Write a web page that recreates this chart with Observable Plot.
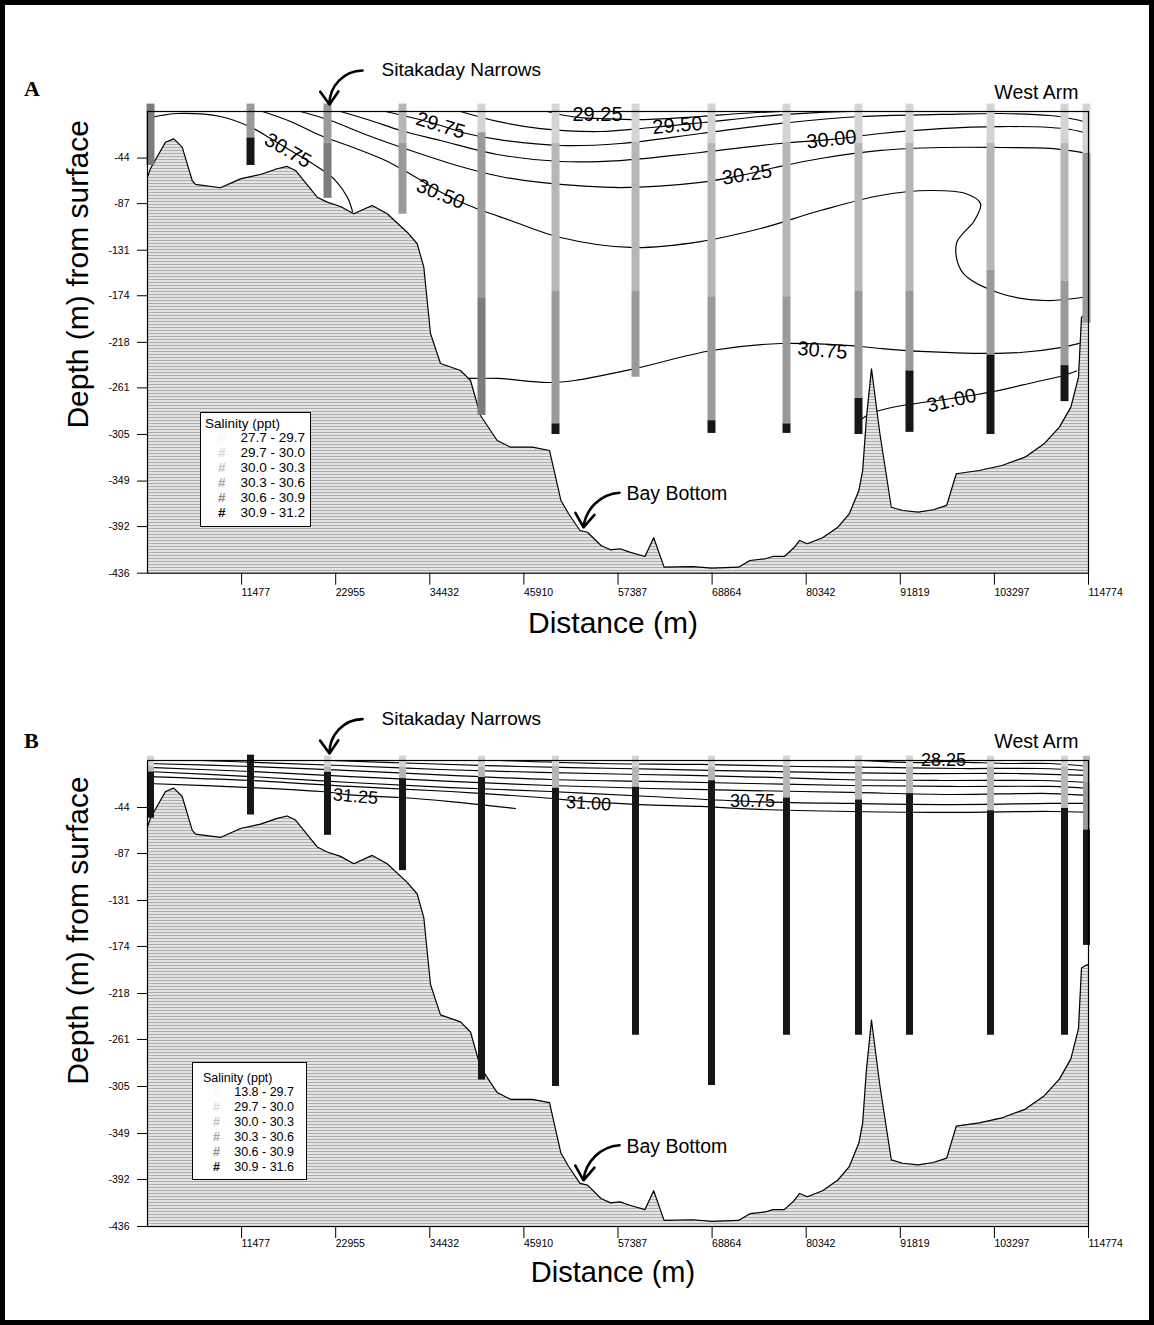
<!DOCTYPE html>
<html><head><meta charset="utf-8">
<script src="https://cdn.jsdelivr.net/npm/d3@7"></script>
<script src="https://cdn.jsdelivr.net/npm/@observablehq/plot@0.6"></script>
<style>
body{margin:0;background:#fff;font-family:"Liberation Sans",Arial,sans-serif}
#page{position:relative;width:1154px;height:1325px;overflow:hidden;background:#fff}
.panel{position:absolute;left:0}
#border{position:absolute;left:0;top:0;width:1154px;height:1325px;box-sizing:border-box;border:5px solid #000;pointer-events:none}
.letter{position:absolute;font-family:"Liberation Serif","Times New Roman",serif;font-weight:bold;font-size:22px;line-height:1}
.legend{position:absolute;background:#fff;border:1px solid #000;box-sizing:border-box;font-family:"Liberation Sans",Arial,sans-serif}
.legend div{position:absolute;white-space:nowrap;line-height:1}
</style></head><body><div id="page"></div>
<script>
// ---------------- DATA ----------------
const xTicks = [11477, 22955, 34432, 45910, 57387, 68864, 80342, 91819, 103297, 114774];
const yTicks = [-44, -87, -131, -174, -218, -261, -305, -349, -392, -436];

// station (cast) positions along the transect (m)
const stationDist = [366, 12563, 21955, 31102, 40738, 49764, 59521, 68791, 77939, 86721, 92941, 102821, 111847, 114530];

// bay-bottom profile
const bathyDist = [0,366,2195,3208,4232,5452,5855,8904,11343,13783,15820,17039,18052,20698,21918,23540,25162,27407,29236,31676,32895,33700,34517,35737,38177,39396,40616,42653,44275,46934,49032,50422,51349,52752,53667,55313,56472,57643,58814,60680,61741,63009,66498,68828,72084,73487,75353,76280,77682,78841,79548,80476,82342,84208,85599,86770,87233,87697,88306,89331,90722,92124,93990,95844,97478,98649,101442,104236,107029,109358,111224,112627,113554,113920,114408,114774];
const bathyDepth = [-62,-53.8,-29,-25.8,-33.7,-65.2,-68.9,-72,-63.6,-59.5,-54.1,-51.9,-55.7,-80.9,-85.6,-89.7,-96.6,-88.8,-96.6,-114,-124.9,-147,-209.6,-238,-244.6,-254,-287.1,-310.7,-317,-317,-320.1,-367.3,-379.6,-395.7,-397.3,-409.8,-413.9,-412.9,-416.1,-420.2,-402.5,-430.3,-429.7,-431.2,-430.3,-424,-422.4,-420.2,-420.2,-412,-405.1,-408.2,-402.5,-392.5,-379.9,-357.9,-339,-288.7,-243,-304.3,-373.7,-376.8,-378.4,-376.1,-372,-342.1,-339,-334.3,-326.4,-313.8,-298.1,-279.2,-250.9,-194.2,-191.7,-191];

// salinity classes of each cast segment: [station, top depth, bottom depth, class]
const barsA = [
  [0,7,-51,4],
  [1,7,-25,3],[1,-25,-51,5],
  [2,7,-30,3],[2,-30,-82,4],
  [3,7,-30,2],[3,-30,-97,3],
  [4,7,-20,1],[4,-20,-176,3],[4,-176,-287,4],
  [5,7,-30,1],[5,-30,-170,2],[5,-170,-295,3],[5,-295,-305,5],
  [6,7,-30,1],[6,-30,-170,2],[6,-170,-251,3],
  [7,7,-30,1],[7,-30,-175,2],[7,-175,-292,3],[7,-292,-304,5],
  [8,7,-30,1],[8,-30,-175,2],[8,-175,-295,3],[8,-295,-304,5],
  [9,7,-30,1],[9,-30,-170,2],[9,-170,-271,3],[9,-271,-305,5],
  [10,7,-30,1],[10,-30,-170,2],[10,-170,-245,3],[10,-245,-303,5],
  [11,7,-30,1],[11,-30,-150,2],[11,-150,-230,3],[11,-230,-305,5],
  [12,7,-30,1],[12,-30,-160,2],[12,-160,-240,3],[12,-240,-274,5],
  [13,7,-40,1],[13,-40,-200,3]
];
const barsB = [
  [0,4,-6,1],[0,-6,-11,2],[0,-11,-54,5],
  [1,5,-51,5],
  [2,4,-6,1],[2,-6,-11,2],[2,-11,-70,5],
  [3,4,-6,1],[3,-6,-17,2],[3,-17,-103,5],
  [4,4,-6,1],[4,-6,-16,2],[4,-16,-299,5],
  [5,4,-6,1],[5,-6,-26,2],[5,-26,-305,5],
  [6,4,-6,1],[6,-6,-25,2],[6,-25,-257,5],
  [7,4,-6,1],[7,-6,-19,2],[7,-19,-304,5],
  [8,4,-6,1],[8,-6,-35,2],[8,-35,-257,5],
  [9,4,-6,1],[9,-6,-37,2],[9,-37,-257,5],
  [10,4,-6,1],[10,-6,-31,2],[10,-31,-257,5],
  [11,4,-6,1],[11,-6,-47,2],[11,-47,-257,5],
  [12,4,-6,1],[12,-6,-45,2],[12,-45,-257,5],
  [13,4,-20,2],[13,-20,-65,3],[13,-65,-173,5]
];

// isohaline contours, panel A  [distance, depth]
const cA2925 = [[48788,0],[50983,-3.8],[52813,-5.7],[55252,-6.6],[60131,-7.6],[67449,-4.7],[72328,-1.9],[77207,0]];
const cA2950 = [[38177,0],[42690,-9.4],[47934,-16.1],[55252,-18.9],[61473,-15.1],[67815,-10.4],[74768,-4.7],[82086,-0.9],[85745,0]];
const cA2975 = [[29029,0],[32688,-6.6],[35737,-13.2],[38908,-20.8],[42690,-26.4],[50373,-32.1],[57692,-30.2],[67449,-20.8],[77207,-11.3],[86965,-4.7],[96722,-2.8],[104040,-1.9],[110139,-3.8],[112578,-6.6],[114774,-10.4]];
const cA3000 = [[23540,0],[27199,-8.5],[30858,-17.9],[35737,-27.4],[42690,-40.6],[50373,-47.2],[57692,-46.3],[67449,-38.7],[77207,-30.2],[83427,-26.4],[89404,-20.8],[96722,-16.1],[104040,-14.2],[110139,-15.1],[112578,-17],[114774,-20.8]];
const cA3025 = [[18661,0],[22321,-8.5],[26589,-21.7],[32078,-36.8],[38177,-51.9],[43055,-61.4],[47934,-67],[57692,-71.8],[67449,-67],[72937,-59.5],[76596,-52.9],[82086,-44.4],[89404,-36.8],[96722,-34],[104040,-34],[110139,-34.9],[114774,-39.7]];
const cA3050 = [[14027,0],[17442,-9.4],[21101,-22.7],[24760,-33],[29029,-46.3],[32566,-61.4],[35859,-76.5],[38908,-87.8],[44275,-102.9],[50373,-119],[58911,-128.4],[67449,-122.8],[74768,-110.5],[82086,-93.5],[89404,-79.3],[95503,-74.6],[99771,-77.4],[101601,-86.9],[100869,-102.9],[98674,-124.6],[99406,-152],[104040,-171.9],[109529,-178.5],[114774,-174.7]];
const cA3075a = [[0,-6.6],[1586,-3.8],[3659,-1.9],[8904,-4.7],[12685,-15.1],[15002,-25.5],[17442,-36.8],[20857,-52.9],[22930,-65.2],[24394,-81.2],[25004,-94.4]];
const cA3075b = [[39152,-252.1],[42690,-252.1],[48788,-255.9],[52081,-254],[59521,-242.7],[68791,-225.7],[77207,-219.1],[85745,-221],[89404,-223.8],[94283,-226.6],[102455,-228.5],[106480,-227.6],[111358,-222.9],[113676,-219]];
const cA3100 = [[86721,-292.7],[88184,-285.2],[89770,-281.4],[92819,-276.7],[98064,-271],[103186,-264.4],[108065,-255.9],[111724,-249.3],[113310,-245]];

// isohaline contours, panel B
const cB2825 = [[86965,0],[89404,-0.9],[94283,-1.9],[97332,-0.9],[100991,-1.9],[105260,-2.8],[110139,-2.8],[114774,-5.6]];
const cB1 = [[43055,0],[55252,-2.8],[67449,-3.7],[79646,-5.6],[89404,-6.5],[99162,-7.5],[108919,-7.5],[114774,-9.4]];
const cB2 = [[22321,0],[33298,-2.8],[45495,-5.6],[57692,-7.5],[69889,-9.4],[82086,-11.2],[94283,-12.2],[106480,-12.2],[114774,-14]];
const cB3 = [[6464,0],[13783,-1.9],[23540,-4.7],[35737,-8.4],[47934,-11.2],[60131,-13.1],[72328,-15],[84525,-17.8],[96722,-18.7],[108919,-18.7],[114774,-20.6]];
const cB4 = [[0,-2.8],[12563,-5.6],[24760,-9.4],[36957,-14],[49154,-17.8],[61351,-19.6],[73548,-21.5],[85745,-23.4],[97942,-24.3],[110139,-24.3],[114774,-26.2]];
const cB5 = [[0,-6.5],[12563,-10.3],[24760,-15],[36957,-19.6],[49154,-23.4],[61351,-26.2],[73548,-28.1],[85745,-29.9],[97942,-31.8],[110139,-30.9],[114774,-32.7]];
const cB3075 = [[0,-10.3],[12563,-15],[24760,-20.6],[36957,-25.3],[49154,-29],[61351,-33.7],[73792,-38.4],[85745,-40.2],[97942,-41.2],[110139,-40.2],[114774,-40.2]];
const cB3100 = [[0,-15],[12563,-18.7],[24760,-24.3],[36957,-29],[47934,-34.6],[53667,-38.4],[60131,-41.2],[67449,-43],[74768,-45.8],[85745,-47.7],[97942,-48.6],[110139,-47.7],[114774,-48.6]];
const cB3125 = [[0,-21.5],[12563,-25.3],[21101,-29],[25614,-32.7],[30858,-34.6],[36957,-38.4],[44885,-44.9]];

// contour labels
const labelsA = [
  {v:"29.25",d:54887,z:-2.8},{v:"29.50",d:64644,z:-13.2},{v:"29.75",d:35737,z:-13.2},
  {v:"30.00",d:83427,z:-26.4},{v:"30.25",d:73120,z:-59.5},{v:"30.50",d:35737,z:-77.9},
  {v:"30.75",d:17137,z:-36.8},{v:"30.75",d:82330,z:-225.7},{v:"31.00",d:98064,z:-273}
];
const labelAnglesA = [0,-5,17,-6,-9,22,30,5,-13];
const labelsB = [{v:"31.25",d:25370,z:-33.7},{v:"31.00",d:53789,z:-40.2},{v:"30.75",d:73792,z:-38.4},{v:"28.25",d:97088,z:0}];
const labelAnglesB = [5,3,0,0];

const legendTitle = "Salinity (ppt)";
const legendRangesA = ["27.7 - 29.7","29.7 - 30.0","30.0 - 30.3","30.3 - 30.6","30.6 - 30.9","30.9 - 31.2"];
const legendRangesB = ["13.8 - 29.7","29.7 - 30.0","30.0 - 30.3","30.3 - 30.6","30.6 - 30.9","30.9 - 31.6"];

const notes = [{t:"Sitakaday Narrows",d:28541,z:39},{t:"West Arm",d:113554,z:18},{t:"Bay Bottom",d:58424,z:-361}];
const arrowNarrows = {x1:26224,y1:38.7,x2:22199,y2:6.6};
const arrowBay = {x1:57570,y1:-360,x2:53179,y2:-392.8};

// ---------------- STYLE ----------------
const barColors = ["#eeeeee","#d4d4d4","#b6b6b6","#9a9a9a","#7c7c7c","#161616"];
const legendColors = ["#f6f6f6","#d8d8d8","#c0c0c0","#a4a4a4","#888888","#000000"];
const FONT = "'Liberation Sans', Arial, Helvetica, sans-serif";

const bathy = bathyDist.map((d,i)=>({d, z:bathyDepth[i]}));
const rowsOf = list => list.flatMap(([id, pts]) => pts.map(([d,z]) => ({id, d, z})));

function panel(cfg){
  const contourRows = rowsOf(cfg.contours);
  const labels = cfg.labels.map((l,i)=>({...l, r: cfg.angles[i]}));
  const svg = Plot.plot({
    width: 1154, height: cfg.height,
    marginTop: cfg.marginTop, marginBottom: cfg.marginBottom, marginLeft: 147, marginRight: 66,
    x: {domain: [0, 114774], label: null},
    y: {domain: [-436, 0], label: null},
    color: {type: "ordinal", domain: [0,1,2,3,4,5], range: barColors},
    style: {background: "transparent", fontFamily: FONT, overflow: "visible"},
    marks: [
      Plot.line(contourRows, {x:"d", y:"z", z:"id", stroke:"#000", strokeWidth:1.2, curve:"catmull-rom"}),
      Plot.areaY(bathy, {x:"d", y1:-436, y2:"z", fill:`url(#${cfg.pid})`}),
      Plot.line(bathy, {x:"d", y:"z", stroke:"#000", strokeWidth:1.2}),
      Plot.ruleX(cfg.bars, {x: r => stationDist[r[0]], y1: r => r[1], y2: r => r[2], stroke: r => r[3], strokeWidth: cfg.barWidth}),
      Plot.text(labels, {x:"d", y:"z", text:"v", rotate:"r", fontSize: cfg.labelSize, fontFamily: FONT}),
      Plot.frame({stroke:"#000", strokeWidth:1.2}),
      Plot.axisX({ticks: xTicks, tickFormat: d => String(d), tickSize: 12, tickPadding: cfg.xPad, textAnchor: "start", fontSize: 10.5, label: null}),
      Plot.axisY({ticks: yTicks, tickFormat: d => String(d), tickSize: 10, tickPadding: 8, fontSize: 10.5, label: null}),
      Plot.text(["Distance (m)"], {frameAnchor:"bottom", textAnchor:"middle", dy: cfg.xLabelDy, dx:-5, fontSize: cfg.xLabelSize}),
      Plot.text(["Depth (m) from surface"], {frameAnchor:"left", textAnchor:"middle", dx:-69, dy: cfg.yLabelDy, rotate:-90, fontSize:30}),
      Plot.text([notes[0]], {x:"d", y:"z", text:"t", textAnchor:"start", fontSize:19}),
      Plot.text([notes[1]], {x:"d", y:"z", text:"t", textAnchor:"end", fontSize:19.5}),
      Plot.text([notes[2]], {x:"d", y:"z", text:"t", textAnchor:"start", fontSize:19.5}),
      Plot.arrow([arrowNarrows], {x1:"x1", y1:"y1", x2:"x2", y2:"y2", bend:-45, strokeWidth:2.6, headLength:10, headAngle:70}),
      Plot.arrow([arrowBay], {x1:"x1", y1:"y1", x2:"x2", y2:"y2", bend:-40, strokeWidth:2.6, headLength:10, headAngle:70})
    ]
  });
  d3.select(svg).insert("defs", ":first-child").html(
    `<pattern id="${cfg.pid}" patternUnits="userSpaceOnUse" width="6" height="3">
       <rect width="6" height="3" fill="#e4e4e4"/><rect width="6" height="1" fill="#acacac"/>
     </pattern>`);
  const wrap = document.createElement("div");
  wrap.className = "panel";
  wrap.style.top = cfg.top + "px";
  wrap.appendChild(svg);
  return wrap;
}

function legend(cfg, ranges){
  const box = document.createElement("div");
  box.className = "legend";
  Object.assign(box.style, {left: cfg.left+"px", top: cfg.top+"px", width: cfg.w+"px", height: cfg.h+"px"});
  const t = document.createElement("div");
  t.textContent = legendTitle;
  Object.assign(t.style, {left: cfg.titleLeft+"px", top: cfg.titleTop+"px", fontSize: cfg.titleSize+"px"});
  box.appendChild(t);
  ranges.forEach((r,i)=>{
    const y = cfg.rowTop + i*cfg.rowStep;
    const s = document.createElement("div");
    s.textContent = "#";
    Object.assign(s.style, {left: cfg.symLeft+"px", top: y+"px", fontSize: cfg.size+"px", color: legendColors[i], fontWeight: "bold"});
    const v = document.createElement("div");
    v.textContent = r;
    Object.assign(v.style, {right: cfg.textRight+"px", top: y+"px", fontSize: cfg.size+"px"});
    box.appendChild(s); box.appendChild(v);
  });
  return box;
}

const page = document.getElementById("page");
page.appendChild(panel({top:0, height:650, marginTop:111, marginBottom:77.3, pid:"gA",
  contours:[["29.25",cA2925],["29.50",cA2950],["29.75",cA2975],["30.00",cA3000],["30.25",cA3025],["30.50",cA3050],["30.75a",cA3075a],["30.75b",cA3075b],["31.00",cA3100]],
  labels:labelsA, angles:labelAnglesA, bars:barsA, barWidth:8, labelSize:20, xPad:3,
  xLabelDy:60, xLabelSize:30, yLabelDy:-68}));
page.appendChild(panel({top:650, height:675, marginTop:110, marginBottom:99, pid:"gB",
  contours:[["28.25",cB2825],["b1",cB1],["b2",cB2],["b3",cB3],["b4",cB4],["b5",cB5],["30.75",cB3075],["31.00",cB3100],["31.25",cB3125]],
  labels:labelsB, angles:labelAnglesB, bars:barsB, barWidth:7, labelSize:18, xPad:1,
  xLabelDy:55, xLabelSize:29, yLabelDy:-63}));

page.appendChild(legend({left:200, top:412, w:111, h:115, titleLeft:4, titleTop:4, titleSize:13.5,
  rowTop:18, rowStep:15, symLeft:17, textRight:5, size:13.5}, legendRangesA));
page.appendChild(legend({left:192, top:1062, w:115, h:118, titleLeft:10, titleTop:9, titleSize:12.5,
  rowTop:23, rowStep:15, symLeft:20, textRight:12, size:12.5}, legendRangesB));

for (const [txt, top] of [["A",78],["B",730]]) {
  const el = document.createElement("div");
  el.className = "letter"; el.textContent = txt;
  el.style.left = "24px"; el.style.top = top + "px";
  page.appendChild(el);
}
const border = document.createElement("div");
border.id = "border";
page.appendChild(border);
</script></body></html>
